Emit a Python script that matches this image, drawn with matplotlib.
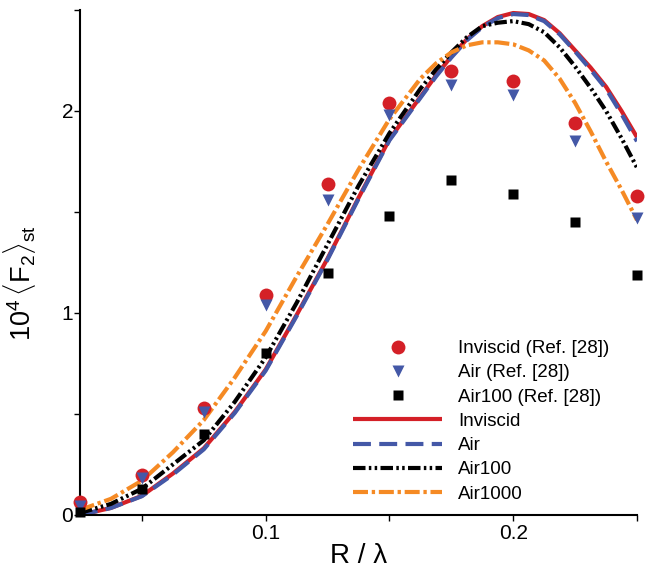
import numpy as np
import matplotlib
matplotlib.use('Agg')
import matplotlib.pyplot as plt
from matplotlib.ticker import FixedLocator, FixedFormatter

plt.rcParams['font.family'] = ['Liberation Sans', 'DejaVu Sans']
plt.rcParams['mathtext.fontset'] = 'custom'
plt.rcParams['mathtext.rm'] = 'Liberation Sans'
plt.rcParams['mathtext.it'] = 'Liberation Sans:italic'

# curves (present work)
R_line = [0.025, 0.0375, 0.05, 0.0625, 0.075, 0.0875, 0.1, 0.1125, 0.125, 0.1375,
          0.15, 0.1625, 0.16875, 0.175, 0.18125, 0.1875, 0.19375, 0.2, 0.20625,
          0.2125, 0.21875, 0.225, 0.23125, 0.2375, 0.24375, 0.25]
inviscid = [0.0, 0.035, 0.095, 0.205, 0.33, 0.51, 0.72, 0.99, 1.27, 1.57,
            1.86, 2.07, 2.175, 2.27, 2.355, 2.42, 2.465, 2.485, 2.48,
            2.45, 2.385, 2.30, 2.215, 2.12, 2.0, 1.87]
air = [0.0, 0.035, 0.093, 0.20, 0.325, 0.505, 0.715, 0.985, 1.265, 1.565,
       1.855, 2.065, 2.17, 2.265, 2.35, 2.415, 2.46, 2.48, 2.475,
       2.445, 2.38, 2.295, 2.205, 2.11, 1.985, 1.85]
air100 = [0.01, 0.055, 0.13, 0.25, 0.37, 0.56, 0.78, 1.05, 1.34, 1.63,
          1.89, 2.11, 2.205, 2.29, 2.365, 2.42, 2.437, 2.445, 2.43,
          2.39, 2.315, 2.22, 2.115, 2.0, 1.865, 1.72]
air1000 = [0.025, 0.08, 0.17, 0.31, 0.47, 0.68, 0.91, 1.18, 1.44, 1.71,
           1.96, 2.16, 2.235, 2.29, 2.325, 2.34, 2.34, 2.33, 2.30,
           2.25, 2.16, 2.04, 1.90, 1.75, 1.61, 1.46]

# Ref. [28] points
R_ref = [0.025, 0.05, 0.075, 0.1, 0.125, 0.15, 0.175, 0.2, 0.225, 0.25]
inviscid_ref = [0.064, 0.2, 0.53, 1.09, 1.64, 2.04, 2.2, 2.15, 1.94, 1.58]
air_ref = [0.045, 0.185, 0.51, 1.04, 1.56, 1.98, 2.13, 2.08, 1.85, 1.47]
air100_ref = [0.015, 0.13, 0.4, 0.8, 1.2, 1.48, 1.66, 1.59, 1.45, 1.19]

red = '#d42027'
blue = '#4458a7'
orange = '#f58a24'

fig = plt.figure(figsize=(6.51, 5.69), dpi=100)
ax = fig.add_axes([80/651, 1 - 515/569, 557/651, 505/569])

l1, = ax.plot(R_line, inviscid, color=red, lw=3, solid_capstyle='butt')
l2, = ax.plot(R_line, air, color=blue, lw=3, dashes=(4.3, 2.0))
l3, = ax.plot(R_line, air100, color='black', lw=3,
              dashes=(3.0, 0.8, 0.6, 0.8, 0.6, 0.8))
l4, = ax.plot(R_line, air1000, color=orange, lw=3,
              dashes=(3.6, 0.9, 0.8, 0.9))

p1, = ax.plot(R_ref, inviscid_ref, 'o', color=red, ms=10, mec='none',
              zorder=5, clip_on=False)
p2, = ax.plot(R_ref, air_ref, 'v', color=blue, ms=9, mec='none',
              zorder=5, clip_on=False)
p3, = ax.plot(R_ref, air100_ref, 's', color='black', ms=7.5, mec='none',
              zorder=5, clip_on=False)

ax.set_xlim(0.025, 0.25)
ax.set_ylim(0, 2.5)

ax.xaxis.set_major_locator(FixedLocator([0.05, 0.1, 0.15, 0.2, 0.25]))
ax.xaxis.set_major_formatter(FixedFormatter(['', '0.1', '', '0.2', '']))
ax.yaxis.set_major_locator(FixedLocator([0, 0.5, 1, 1.5, 2, 2.5]))
ax.yaxis.set_major_formatter(FixedFormatter(['0', '', '1', '', '2', '']))

for s in ['top', 'right']:
    ax.spines[s].set_visible(False)
for s in ['left', 'bottom']:
    ax.spines[s].set_linewidth(1.5)
ax.tick_params(axis='both', direction='out', length=4.5, width=1.0, labelsize=15)
ax.tick_params(axis='y', pad=0.5)
ax.tick_params(axis='x', pad=2)

ax.set_xlabel('R / λ', fontsize=20, labelpad=0)
ax.set_ylabel(r'$10^4\,\langle\mathrm{F}_2\rangle_{\mathrm{st}}$', fontsize=19.5)
ax.yaxis.set_label_coords(-0.075, 0.46)

leg = ax.legend([p1, p2, p3, l1, l2, l3, l4],
                ['Inviscid (Ref. [28])', 'Air (Ref. [28])', 'Air100 (Ref. [28])',
                 'Inviscid', 'Air', 'Air100', 'Air1000'],
                loc='upper left', bbox_to_anchor=(353/651, 1 - 340/569),
                bbox_transform=fig.transFigure, frameon=False, fontsize=13.5,
                borderpad=0, borderaxespad=0, handlelength=4.75,
                handletextpad=0.85, labelspacing=0.38, numpoints=1)

fig.savefig('out.png', dpi=100)
